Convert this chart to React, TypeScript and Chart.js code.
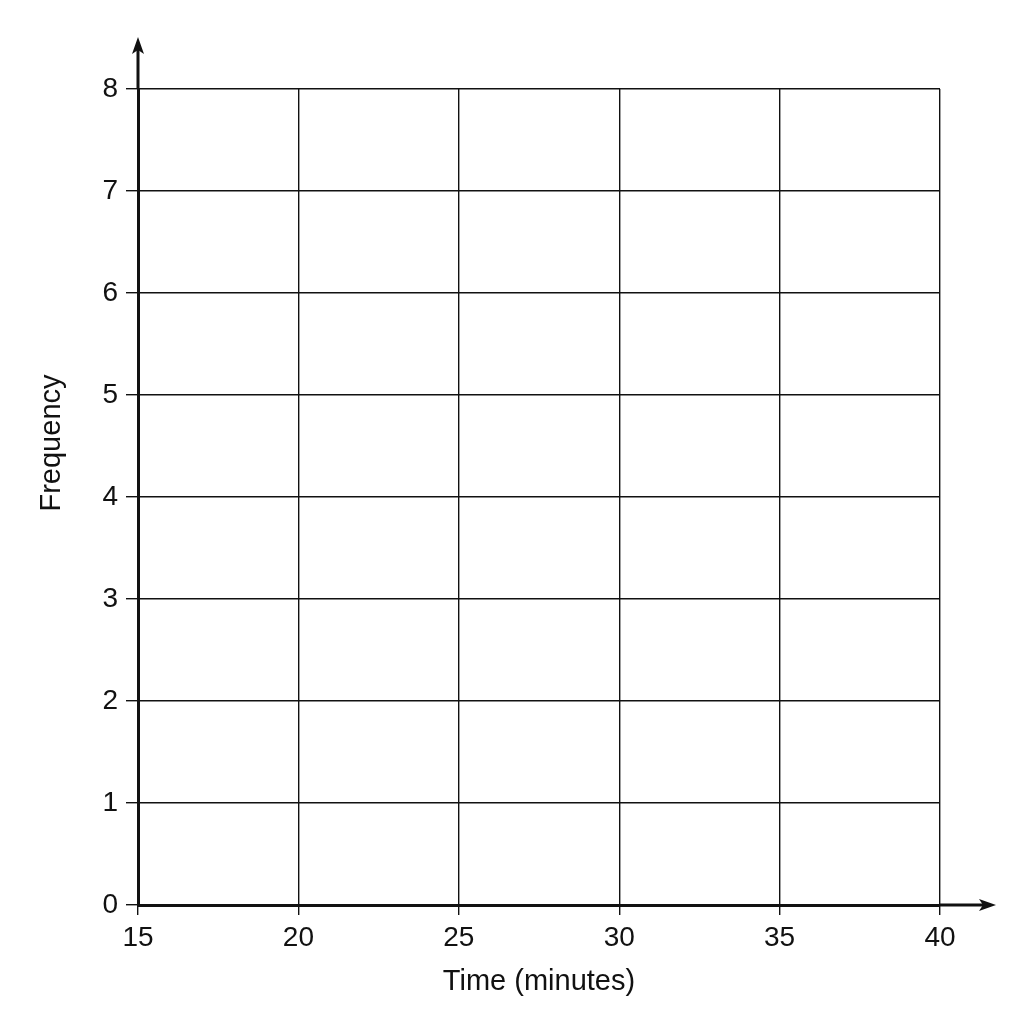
import { useEffect, useRef } from 'react'
import { Chart, ScatterController, PointElement, LinearScale } from 'chart.js'

Chart.register(ScatterController, PointElement, LinearScale);

// axis ticks (empty grid, no series plotted)
const timeTicks = [15, 20, 25, 30, 35, 40];
const frequencyTicks = [0, 1, 2, 3, 4, 5, 6, 7, 8];
const xTitle = 'Time (minutes)';
const yTitle = 'Frequency';

const FONT = "'Liberation Sans', Arial, sans-serif";
const INK = '#111111';

/** Draws arrow-tipped axes past the chart area and the y title */
const axisArrows = {
  id: 'axisArrows',
  afterDraw(chart: Chart) {
    const { ctx, chartArea } = chart;
    const x0 = chart.scales.x.getPixelForValue(timeTicks[0]);
    const y0 = chart.scales.y.getPixelForValue(frequencyTicks[0]);
    const yTip = chartArea.top - 52;
    const xTip = chartArea.right + 56;
    ctx.save();
    ctx.strokeStyle = INK;
    ctx.fillStyle = INK;
    ctx.lineWidth = 3;
    ctx.beginPath();
    ctx.moveTo(x0, chartArea.top);
    ctx.lineTo(x0, yTip + 8);
    ctx.moveTo(chartArea.right, y0);
    ctx.lineTo(xTip - 8, y0);
    ctx.stroke();

    // arrow heads
    ctx.beginPath();
    ctx.moveTo(x0, yTip);
    ctx.lineTo(x0 - 6, yTip + 17);
    ctx.lineTo(x0, yTip + 13);
    ctx.lineTo(x0 + 6, yTip + 17);
    ctx.closePath();
    ctx.fill();
    ctx.beginPath();
    ctx.moveTo(xTip, y0);
    ctx.lineTo(xTip - 17, y0 - 6);
    ctx.lineTo(xTip - 13, y0);
    ctx.lineTo(xTip - 17, y0 + 6);
    ctx.closePath();
    ctx.fill();

    // y title sits above the axis middle in the reference
    ctx.translate(52, 443);
    ctx.rotate(-Math.PI / 2);
    ctx.font = `29px ${FONT}`;
    ctx.textAlign = 'center';
    ctx.textBaseline = 'middle';
    ctx.fillText(yTitle, 0, 0);
    ctx.restore();
  },
};

export default function App() {
  const canvasRef = useRef<HTMLCanvasElement>(null);
  const chartRef = useRef<Chart | null>(null);

  useEffect(() => {
    if (!canvasRef.current) return;
    chartRef.current?.destroy();
    chartRef.current = new Chart(canvasRef.current, {
      type: 'scatter',
      data: { datasets: [{ data: [] }] },
      plugins: [axisArrows],
      options: {
        animation: false,
        responsive: true,
        maintainAspectRatio: false,
        layout: { padding: { left: 0, right: 84, top: 89, bottom: 0 } },
        plugins: { legend: { display: false }, tooltip: { enabled: false } },
        scales: {
          x: {
            type: 'linear',
            min: timeTicks[0],
            max: timeTicks[timeTicks.length - 1],
            afterBuildTicks: (scale) => { scale.ticks = timeTicks.map(v => ({ value: v })); },
            afterFit: (scale) => { scale.height = 119; },
            ticks: { color: INK, font: { family: FONT, size: 28 }, padding: 6, maxRotation: 0 },
            grid: { color: INK, lineWidth: 1.4, tickLength: 10 },
            border: { color: INK, width: 3 },
            title: { display: true, text: xTitle, color: INK, font: { family: FONT, size: 29 }, padding: { top: 0, bottom: 25 } },
          },
          y: {
            type: 'linear',
            min: frequencyTicks[0],
            max: frequencyTicks[frequencyTicks.length - 1],
            afterBuildTicks: (scale) => { scale.ticks = frequencyTicks.map(v => ({ value: v })); },
            afterFit: (scale) => { scale.width = 138; },
            ticks: { color: INK, font: { family: FONT, size: 28 }, padding: 8 },
            grid: { color: INK, lineWidth: 1.4, tickLength: 12 },
            border: { color: INK, width: 3 },
          },
        },
      },
    });
    return () => {
      chartRef.current?.destroy();
      chartRef.current = null;
    };
  }, []);

  return (
    <div style={{ position: 'absolute', left: 0, top: 0, width: 1024, height: 1024, background: '#fff' }}>
      <canvas ref={canvasRef} />
    </div>
  );
}
